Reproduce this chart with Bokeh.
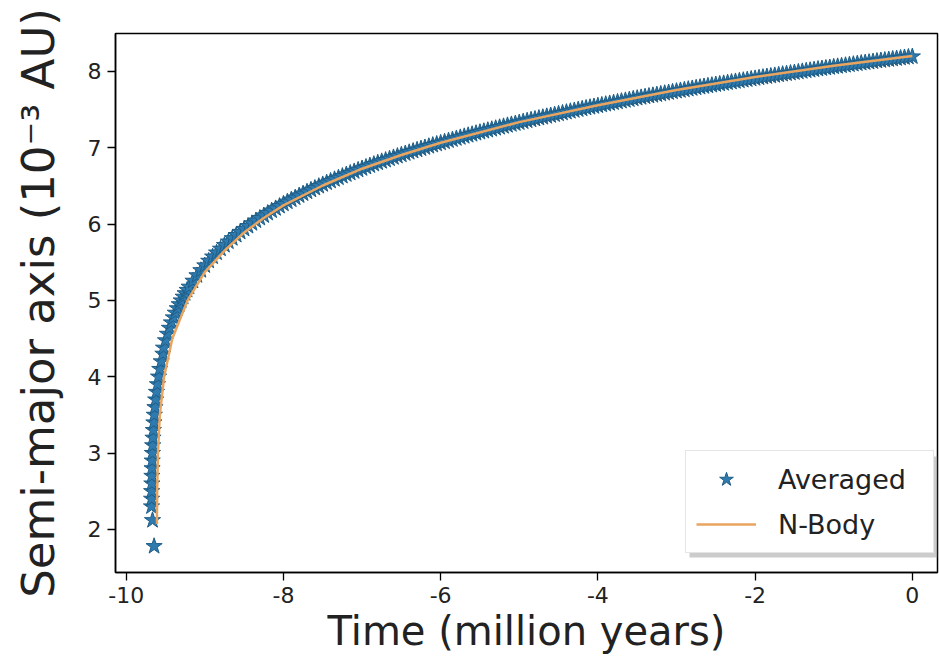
from bokeh.plotting import figure
from bokeh.models import Range1d, FixedTicker, Legend, LegendItem, BoxAnnotation, PrintfTickFormatter
from bokeh.embed import file_html
from bokeh.resources import INLINE

# ---- data ----
# lowest part of the averaged track (nearly vertical column)
avg_time_low = [-9.645, -9.665, -9.678, -9.677, -9.676, -9.674, -9.673, -9.671, -9.669, -9.666,
                -9.663, -9.659, -9.654, -9.648, -9.642, -9.634, -9.625, -9.614, -9.602, -9.588,
                -9.573, -9.554, -9.533]
avg_axis_low = [1.78, 2.12, 2.30, 2.40, 2.50, 2.60, 2.70, 2.80, 2.90, 3.00,
                3.10, 3.20, 3.30, 3.40, 3.50, 3.60, 3.70, 3.80, 3.90, 4.00,
                4.10, 4.20, 4.30]
# steep part
avg_time_steep = [-9.525, -9.5, -9.475, -9.45, -9.425, -9.4, -9.375, -9.35, -9.325, -9.3,
                  -9.275, -9.25, -9.225,
                  -9.2, -9.15, -9.1, -9.05, -9.0, -8.95, -8.9, -8.85, -8.8, -8.75,
                  -8.7, -8.65, -8.6, -8.55, -8.5, -8.45, -8.4, -8.35, -8.3, -8.25,
                  -8.2, -8.15, -8.1, -8.05]
avg_axis_steep = [4.379, 4.475, 4.561, 4.639, 4.710, 4.776, 4.837, 4.895, 4.948, 4.998,
                  5.047, 5.092, 5.136,
                  5.178, 5.256, 5.327, 5.394, 5.457, 5.517, 5.572, 5.625, 5.675, 5.723,
                  5.769, 5.813, 5.855, 5.896, 5.935, 5.972, 6.009, 6.044, 6.078, 6.111,
                  6.144, 6.175, 6.205, 6.235]
# flatter part
avg_time_flat = [
    -8.0, -7.95, -7.9, -7.85, -7.8, -7.75, -7.7, -7.65, -7.6, -7.55,
    -7.5, -7.45, -7.4, -7.35, -7.3, -7.25, -7.2, -7.15, -7.1, -7.05,
    -7.0, -6.95, -6.9, -6.85, -6.8, -6.75, -6.7, -6.65, -6.6, -6.55,
    -6.5, -6.45, -6.4, -6.35, -6.3, -6.25, -6.2, -6.15, -6.1, -6.05,
    -6.0, -5.95, -5.9, -5.85, -5.8, -5.75, -5.7, -5.65, -5.6, -5.55,
    -5.5, -5.45, -5.4, -5.35, -5.3, -5.25, -5.2, -5.15, -5.1, -5.05,
    -5.0, -4.95, -4.9, -4.85, -4.8, -4.75, -4.7, -4.65, -4.6, -4.55,
    -4.5, -4.45, -4.4, -4.35, -4.3, -4.25, -4.2, -4.15, -4.1, -4.05,
    -4.0, -3.95, -3.9, -3.85, -3.8, -3.75, -3.7, -3.65, -3.6, -3.55,
    -3.5, -3.45, -3.4, -3.35, -3.3, -3.25, -3.2, -3.15, -3.1, -3.05,
    -3.0, -2.95, -2.9, -2.85, -2.8, -2.75, -2.7, -2.65, -2.6, -2.55,
    -2.5, -2.45, -2.4, -2.35, -2.3, -2.25, -2.2, -2.15, -2.1, -2.05,
    -2.0, -1.95, -1.9, -1.85, -1.8, -1.75, -1.7, -1.65, -1.6, -1.55,
    -1.5, -1.45, -1.4, -1.35, -1.3, -1.25, -1.2, -1.15, -1.1, -1.05,
    -1.0, -0.95, -0.9, -0.85, -0.8, -0.75, -0.7, -0.65, -0.6, -0.55,
    -0.5, -0.45, -0.4, -0.35, -0.3, -0.25, -0.2, -0.15, -0.1, -0.05,
    0.0,
]
avg_axis_flat = [
    6.264, 6.292, 6.319, 6.346, 6.373, 6.398, 6.423, 6.448, 6.472, 6.496,
    6.519, 6.542, 6.564, 6.586, 6.607, 6.628, 6.649, 6.669, 6.689, 6.709,
    6.728, 6.747, 6.766, 6.785, 6.803, 6.821, 6.838, 6.856, 6.873, 6.890,
    6.907, 6.924, 6.940, 6.956, 6.972, 6.988, 7.003, 7.019, 7.034, 7.049,
    7.063, 7.078, 7.093, 7.107, 7.121, 7.135, 7.149, 7.163, 7.176, 7.190,
    7.203, 7.216, 7.229, 7.242, 7.255, 7.268, 7.280, 7.293, 7.305, 7.317,
    7.329, 7.341, 7.353, 7.365, 7.376, 7.388, 7.399, 7.411, 7.422, 7.433,
    7.444, 7.455, 7.466, 7.477, 7.488, 7.499, 7.509, 7.520, 7.530, 7.540,
    7.550, 7.560, 7.570, 7.580, 7.590, 7.600, 7.610, 7.620, 7.630, 7.640,
    7.649, 7.659, 7.668, 7.677, 7.686, 7.695, 7.704, 7.714, 7.723, 7.732,
    7.741, 7.750, 7.758, 7.767, 7.776, 7.785, 7.793, 7.802, 7.810, 7.819,
    7.827, 7.835, 7.843, 7.852, 7.860, 7.868, 7.876, 7.884, 7.892, 7.900,
    7.908, 7.916, 7.924, 7.932, 7.939, 7.947, 7.955, 7.963, 7.970, 7.978,
    7.985, 7.993, 8.000, 8.008, 8.015, 8.022, 8.030, 8.037, 8.044, 8.051,
    8.059, 8.066, 8.073, 8.080, 8.087, 8.094, 8.101, 8.108, 8.115, 8.121,
    8.128, 8.135, 8.142, 8.148, 8.155, 8.162, 8.168, 8.175, 8.182, 8.188,
    8.194,
]
nbody_time = [-9.609, -9.606, -9.596, -9.572, -9.518, -9.413, -9.219, -9.0, -8.75, -8.5,
              -8.25, -8.0, -7.5, -7.0, -6.5, -6.0, -5.0, -4.0, -3.0, -2.0, -1.0, 0.0]
nbody_axis = [2.07, 2.50, 3.00, 3.50, 4.00, 4.50, 5.00, 5.37, 5.65, 5.89,
              6.08, 6.245, 6.505, 6.725, 6.905, 7.065, 7.335, 7.555, 7.755, 7.925, 8.075, 8.20]

x_ticks = [-10, -8, -6, -4, -2, 0]
y_ticks = [2, 3, 4, 5, 6, 7, 8]

avg_time = avg_time_low + avg_time_steep + avg_time_flat
avg_axis = avg_axis_low + avg_axis_steep + avg_axis_flat

FONT = "DejaVu Sans"
BLUE = "#2f7aae"
BLUE_EDGE = "#1e5d86"
ORANGE = "#e9a560"

p = figure(width=939, height=663, output_backend="svg", toolbar_location=None,
           x_range=Range1d(-10.136, 0.32), y_range=Range1d(1.436, 8.496),
           min_border_left=115, min_border_right=2, min_border_top=33, min_border_bottom=91)

p.background_fill_color = "white"
p.border_fill_color = "white"
p.outline_line_color = "black"
p.outline_line_width = 1.5
p.xgrid.visible = False
p.ygrid.visible = False

stars = p.scatter(avg_time, avg_axis, marker="star", size=17,
                  fill_color=BLUE, line_color=BLUE_EDGE, line_width=1)
nline = p.line(nbody_time, nbody_axis, line_color=ORANGE, line_width=2.5)

for ax in (p.xaxis[0], p.yaxis[0]):
    ax.axis_line_color = "black"
    ax.axis_line_width = 1.5
    ax.major_tick_line_color = "black"
    ax.major_tick_line_width = 1.3
    ax.major_tick_out = 8
    ax.major_tick_in = 0
    ax.minor_tick_line_color = None
    ax.major_label_text_font = FONT
    ax.major_label_text_font_size = "22px"
    ax.major_label_text_color = "#222222"
    ax.axis_label_text_font = FONT
    ax.axis_label_text_font_style = "normal"
    ax.axis_label_text_color = "#222222"
    ax.formatter = PrintfTickFormatter(format="%d")

p.xaxis[0].ticker = FixedTicker(ticks=x_ticks)
p.yaxis[0].ticker = FixedTicker(ticks=y_ticks)
p.xaxis[0].axis_label = "Time (million years)"
p.yaxis[0].axis_label = "Semi-major axis (10\u207b\u00b3 AU)"
p.xaxis[0].axis_label_text_font_size = "40px"
p.yaxis[0].axis_label_text_font_size = "45px"
p.xaxis[0].major_label_standoff = 6
p.yaxis[0].major_label_standoff = 6
p.xaxis[0].axis_label_standoff = 2
p.yaxis[0].axis_label_standoff = 20

# legend shadow (screen units: x from frame left, y upward from frame bottom)
shadow = BoxAnnotation(left=574, right=822, top=116, bottom=15,
                       left_units="screen", right_units="screen",
                       top_units="screen", bottom_units="screen",
                       fill_color="#999999", fill_alpha=0.5, line_color=None,
                       level="underlay")
p.add_layout(shadow)

legend = Legend(items=[LegendItem(label="Averaged", renderers=[stars]),
                       LegendItem(label="N-Body", renderers=[nline])],
                location=(570, 19))
legend.label_text_font = FONT
legend.label_text_font_size = "27px"
legend.label_text_color = "#222222"
legend.glyph_width = 60
legend.glyph_height = 36
legend.label_height = 36
legend.label_width = 145
legend.label_standoff = 22
legend.spacing = 9
legend.padding = 10
legend.margin = 0
legend.border_line_color = "#cccccc"
legend.border_line_width = 1.2
legend.background_fill_color = "white"
legend.background_fill_alpha = 1.0
p.add_layout(legend)

open("out.html", "w").write(file_html(p, INLINE))
